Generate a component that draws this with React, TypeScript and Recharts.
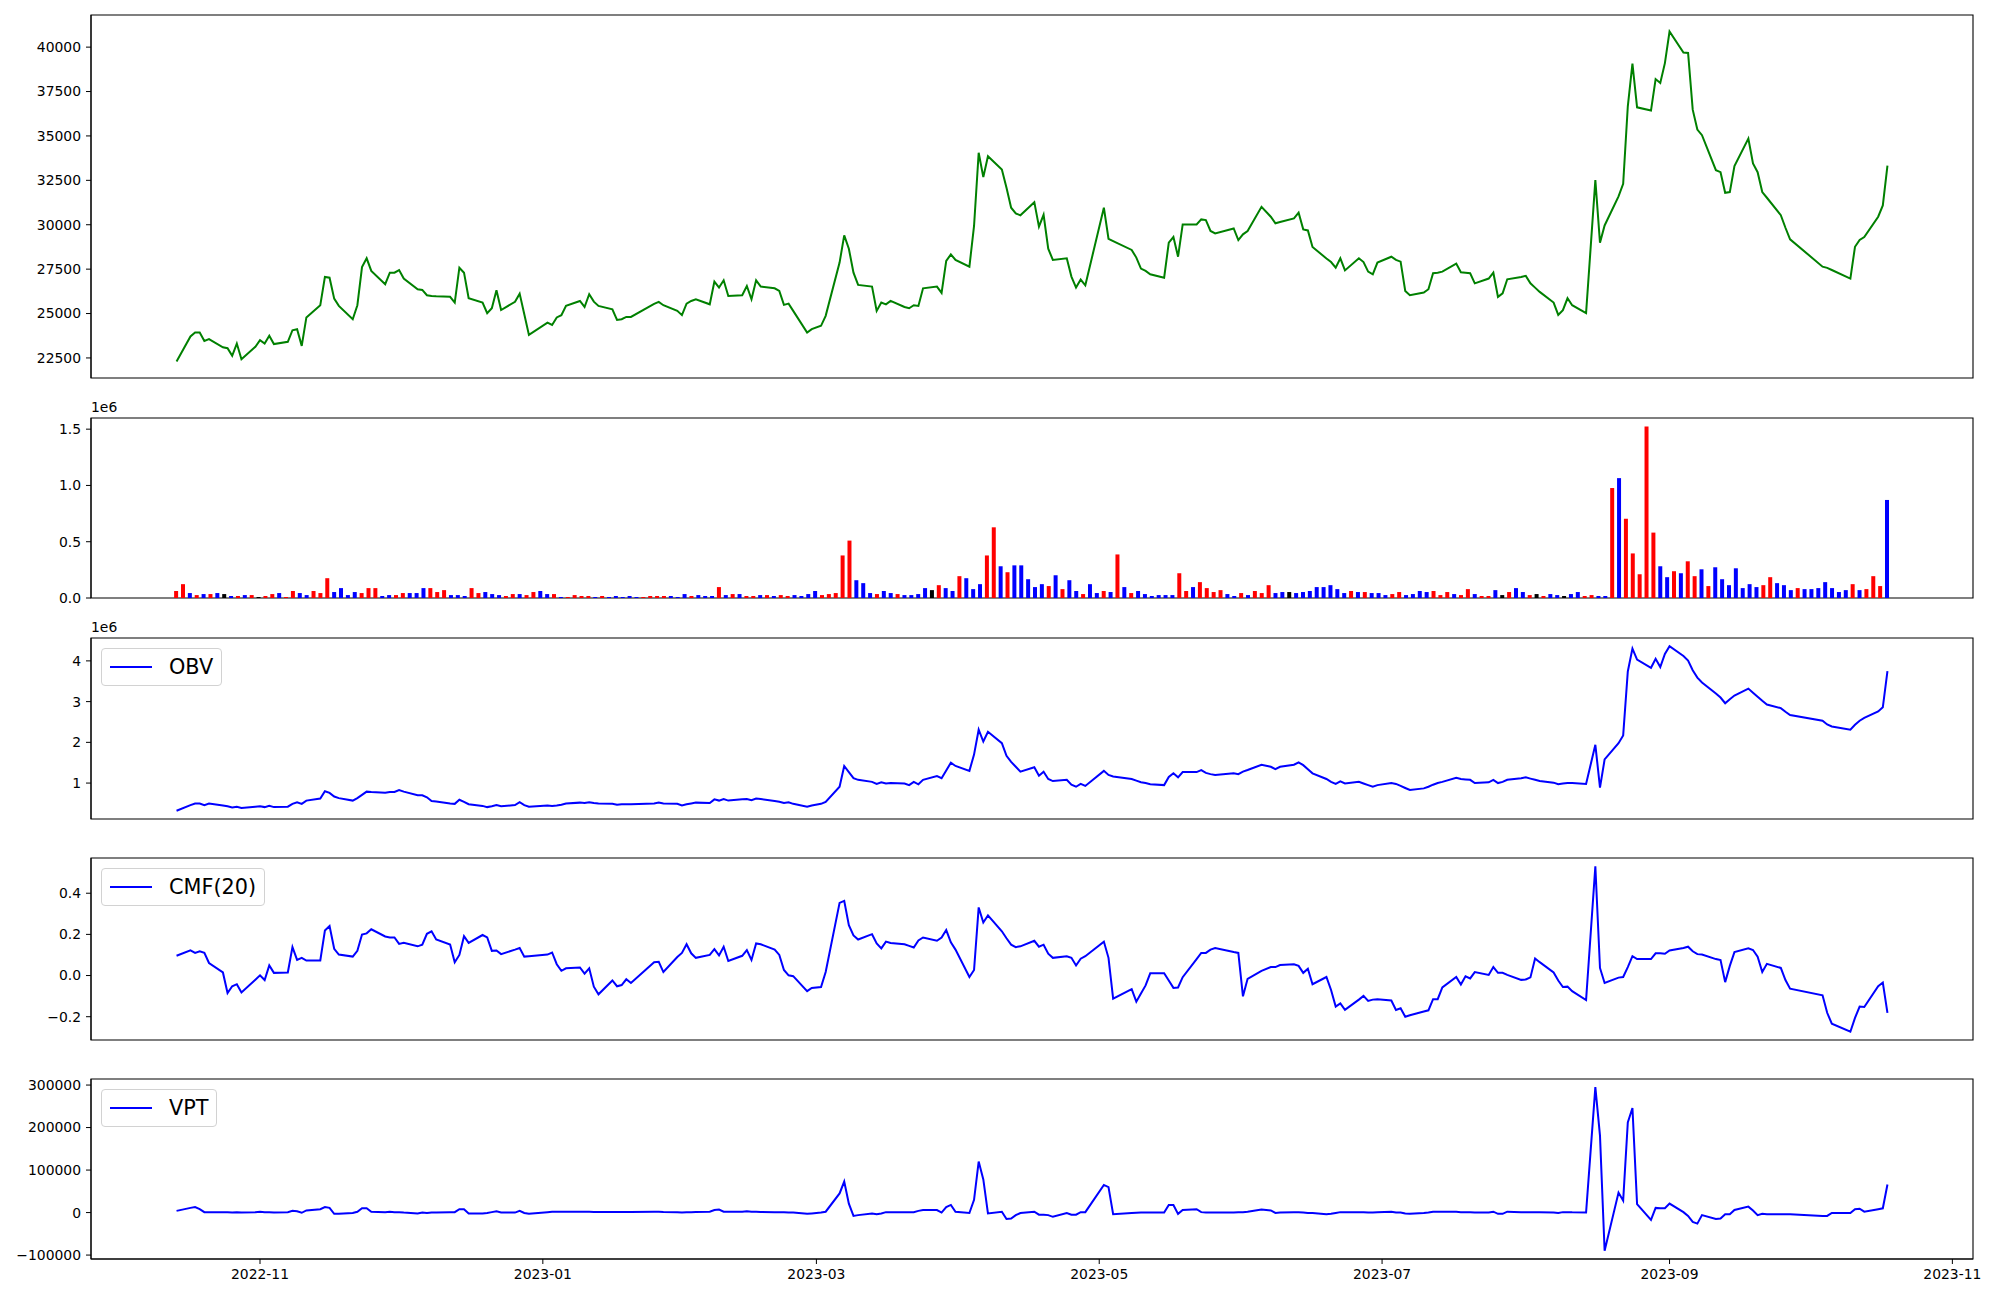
import React from "react";
import { LineChart, Line, BarChart, Bar, Cell, XAxis, YAxis, ReferenceArea } from "recharts";

const FONT = "DejaVu Sans, sans-serif";
const DAY_MS = 86400000;

// weekdays with no session in the window
const holidays = [
  "2022-12-30", "2023-01-23", "2023-01-24", "2023-03-01", "2023-05-01", "2023-05-05",
  "2023-05-29", "2023-06-06", "2023-08-15", "2023-09-28", "2023-09-29", "2023-10-02",
  "2023-10-03", "2023-10-09",
];

// closing price, one per session, month by month
const close = [
  22300, 23710, 23930, 23930, 23460, 23560, 23100, 23050, 22620, 23310, 22430, 23130,
  23500, 23310, 23750, 23280, 23410, 24060, 24120, 23180, 24780, 25470, 27060, 27020, 25840, 25430, 24680, 25470, 27620, 28110, 27400, 26650, 27300, 27300,
  27450, 26970, 26370, 26330, 26030, 25990, 25970, 25940, 25620, 27580, 27300, 25860, 25620, 25020, 25300, 26310, 25200, 25660, 26120, 24960, 23800,
  24490, 24360, 24780, 24910, 25430, 25710, 25370, 26090, 25670, 25430, 25240, 24640, 24680, 24810, 24810, 25540, 25660, 25470, 25150, 24910,
  25560, 25710, 25800, 25520, 26800, 26460, 26870, 25990, 26030, 26550, 25800, 26870, 26520, 26420, 26270, 25490, 25560, 25150, 23930, 24120,
  24310, 24870, 27870, 29400, 28650, 27300, 26610, 26520, 25150, 25620, 25520, 25710, 25370, 25300, 25470, 25430, 26420, 26520, 26160, 27960, 28330, 28020,
  27640, 29930, 34050, 32680, 33860, 33110, 32080, 30960, 30640, 30530, 31270, 29890, 30560, 28650, 28020, 28110, 27080, 26460, 26910, 26590,
  30960, 29210, 29080, 28580, 28150, 27530, 27400, 27210, 27020, 28990, 29310, 28200, 30020, 30020, 30300, 30260, 29650, 29510, 29790, 29140,
  29460, 29650, 31010, 30450, 30080, 30150, 30360, 30680, 29740, 29680, 28750, 28100, 27900, 27580, 28110, 27430, 28110, 27900, 27360, 27210, 27870,
  28200, 28020, 27920, 26270, 26030, 26180, 26370, 27270, 27300, 27360, 27810, 27320, 27300, 27270, 26700, 26970, 27300, 25940, 26140, 26930, 27060,
  27120, 26700, 26460, 26220, 25620, 24920, 25190, 25860, 25470, 25020, 32510, 28990, 29960, 31600, 32300, 36670, 39070, 36610, 36430, 38200, 37980, 39100,
  40880, 39700, 39670, 36480, 35360, 35040, 33070, 32960, 31800, 31840, 33300, 34850, 33450, 32960, 31840, 31520, 30540, 29830, 29180,
  27640, 27570, 27450, 26970, 28760, 29140, 29310, 30450, 31090, 33330,
];

// traded volume, thousands
const volumeK = [
  62, 123, 44, 26, 35, 35, 44, 35, 18, 18, 26, 26,
  9, 18, 35, 44, 9, 62, 44, 26, 62, 44, 176, 53, 88, 26, 53, 44, 88, 88, 18, 26, 26, 44,
  44, 44, 88, 88, 53, 70, 26, 26, 18, 88, 44, 53, 35, 26, 18, 35, 35, 26, 53, 62, 35,
  35, 9, 9, 26, 18, 18, 9, 18, 9, 18, 9, 18, 9, 9, 18, 18, 18, 18, 9, 35,
  18, 26, 18, 18, 97, 26, 35, 35, 18, 18, 26, 26, 18, 26, 18, 26, 18, 35, 62, 26,
  35, 44, 378, 510, 158, 132, 44, 35, 62, 44, 35, 26, 26, 35, 88, 70, 114, 88, 62, 194, 176, 79,
  123, 378, 628, 282, 229, 290, 290, 167, 97, 123, 106, 202, 79, 158, 62, 35, 123, 44, 62, 53,
  387, 97, 44, 62, 35, 18, 26, 26, 26, 220, 62, 97, 141, 88, 53, 70, 35, 18, 44, 26,
  62, 44, 114, 44, 53, 53, 44, 53, 62, 97, 97, 114, 79, 44, 62, 53, 53, 44, 44, 26, 35,
  53, 26, 35, 62, 53, 62, 26, 53, 35, 26, 79, 35, 18, 18, 70, 26, 53, 88, 53, 26, 35,
  18, 35, 26, 18, 35, 53, 18, 26, 18, 18, 977, 1065, 704, 396, 211, 1523, 581, 282, 185, 238, 220, 326,
  194, 255, 106, 273, 167, 114, 264, 88, 123, 97, 114, 185, 132, 114, 70, 88, 79, 79, 88,
  141, 88, 53, 70, 123, 70, 79, 194, 106, 871,
];

// bar colour: r = up, b = down, k = flat
const barTone = (
  "rrbrbrbkbrbr" +
  "krrbrrbbrrrbbbbrrrbbrr" +
  "bbbrrrbbbrrbbbrrbrrbb" +
  "rbrrrrbrbbbbbrrrrbbb" +
  "rbbbrbrbrrbrbrrbbbbr" +
  "rrrrbbbrbbrbbbbkrbbrbb" +
  "brrbrbbbbbrbrbbrbbrb" +
  "rbrbbbbbbrrbrrrrbbrb" +
  "rrrbbkbbbbbbbbrbrbbbr" +
  "rbbbbrrrbrrbrrbkrbbrk" +
  "rbbkbbrrbbrbrrrrrbbrbr" +
  "rbrbbbbbbbrrbbbrbbb" +
  "bbbbrbrrrb"
).split("");

// on-balance volume, millions
const obvM = [
  0.32, 0.46, 0.5, 0.5, 0.46, 0.5, 0.45, 0.43, 0.4, 0.42, 0.39, 0.42,
  0.43, 0.41, 0.44, 0.41, 0.42, 0.49, 0.53, 0.49, 0.57, 0.62, 0.8, 0.76, 0.67, 0.63, 0.57, 0.63, 0.71, 0.79, 0.78, 0.76, 0.78, 0.78,
  0.83, 0.79, 0.7, 0.7, 0.65, 0.56, 0.55, 0.5, 0.49, 0.59, 0.54, 0.48, 0.44, 0.41, 0.43, 0.46, 0.43, 0.46, 0.53, 0.46, 0.42,
  0.45, 0.44, 0.45, 0.47, 0.5, 0.52, 0.51, 0.53, 0.51, 0.5, 0.49, 0.47, 0.48, 0.48, 0.48, 0.5, 0.52, 0.5, 0.49, 0.45,
  0.48, 0.5, 0.52, 0.51, 0.6, 0.57, 0.61, 0.57, 0.6, 0.61, 0.58, 0.62, 0.61, 0.56, 0.54, 0.51, 0.53, 0.49, 0.42, 0.45,
  0.49, 0.54, 0.91, 1.42, 1.27, 1.12, 1.08, 1.03, 0.98, 1.02, 0.99, 1.0, 0.99, 0.95, 1.03, 0.97, 1.08, 1.17, 1.12, 1.31, 1.5, 1.42,
  1.3, 1.7, 2.31, 2.02, 2.26, 1.98, 1.67, 1.52, 1.4, 1.28, 1.39, 1.18, 1.28, 1.1, 1.05, 1.08, 0.96, 0.91, 0.98, 0.93,
  1.3, 1.2, 1.16, 1.1, 1.06, 1.02, 1.0, 0.97, 0.95, 1.15, 1.24, 1.14, 1.27, 1.27, 1.32, 1.25, 1.22, 1.2, 1.24, 1.22,
  1.28, 1.32, 1.45, 1.4, 1.34, 1.4, 1.45, 1.51, 1.44, 1.34, 1.24, 1.1, 1.03, 0.98, 1.04, 0.99, 1.03, 0.99, 0.95, 0.91, 0.95,
  1.0, 0.98, 0.93, 0.88, 0.83, 0.87, 0.91, 0.96, 1.0, 1.03, 1.13, 1.1, 1.09, 1.08, 1.0, 1.02, 1.08, 1.0, 1.03, 1.08, 1.12,
  1.14, 1.11, 1.08, 1.05, 1.01, 0.97, 0.99, 1.0, 1.0, 0.98, 1.94, 0.89, 1.58, 1.98, 2.17, 3.74, 4.3, 4.03, 3.83, 4.05, 3.85, 4.17,
  4.36, 4.12, 4.01, 3.77, 3.59, 3.47, 3.2, 3.1, 2.96, 3.06, 3.15, 3.32, 3.22, 3.12, 3.02, 2.93, 2.84, 2.75, 2.67,
  2.53, 2.44, 2.39, 2.31, 2.43, 2.53, 2.6, 2.76, 2.86, 3.75,
];

// Chaikin money flow, 20 sessions
const cmf20 = [
  0.096, 0.122, 0.11, 0.118, 0.11, 0.061, 0.015, -0.085, -0.052, -0.042, -0.082, -0.02,
  0.001, -0.022, 0.049, 0.013, 0.015, 0.138, 0.076, 0.086, 0.073, 0.073, 0.219, 0.241, 0.13, 0.102, 0.092, 0.12, 0.199, 0.205, 0.225, 0.19, 0.185, 0.185,
  0.154, 0.159, 0.142, 0.15, 0.203, 0.215, 0.175, 0.151, 0.065, 0.1, 0.191, 0.159, 0.197, 0.185, 0.12, 0.122, 0.104, 0.126, 0.134, 0.092, 0.094,
  0.102, 0.112, 0.055, 0.023, 0.035, 0.039, 0.009, 0.035, -0.054, -0.091, -0.024, -0.052, -0.046, -0.018, -0.036, 0.065, 0.067, 0.017, 0.09, 0.11,
  0.152, 0.108, 0.086, 0.1, 0.128, 0.098, 0.14, 0.071, 0.096, 0.124, 0.076, 0.156, 0.152, 0.126, 0.1, 0.027, 0.001, -0.003, -0.076, -0.06,
  -0.056, 0.017, 0.353, 0.363, 0.245, 0.195, 0.175, 0.201, 0.156, 0.132, 0.165, 0.158, 0.152, 0.144, 0.136, 0.171, 0.185, 0.169, 0.185, 0.221, 0.161, 0.126,
  -0.007, 0.027, 0.331, 0.258, 0.292, 0.215, 0.181, 0.15, 0.138, 0.142, 0.169, 0.14, 0.15, 0.106, 0.086, 0.094, 0.086, 0.049, 0.082, 0.094,
  0.165, 0.086, -0.112, -0.066, -0.127, -0.087, -0.048, 0.011, 0.011, -0.024, -0.06, -0.058, -0.008, 0.08, 0.11, 0.11, 0.126, 0.134, 0.114, 0.11,
  -0.101, -0.016, 0.023, 0.041, 0.041, 0.051, 0.055, 0.047, 0.013, 0.033, -0.042, -0.007, -0.07, -0.151, -0.135, -0.167, -0.117, -0.099, -0.123, -0.117, -0.115,
  -0.121, -0.167, -0.159, -0.2, -0.193, -0.175, -0.169, -0.115, -0.115, -0.058, -0.007, -0.044, -0.004, -0.014, 0.017, 0.003, 0.041, 0.013, 0.013, 0.003, -0.021,
  -0.019, -0.009, 0.083, 0.065, 0.015, -0.024, -0.056, -0.054, -0.076, -0.119, 0.531, 0.037, -0.036, -0.01, -0.007, 0.041, 0.094, 0.08, 0.08, 0.108, 0.108, 0.106,
  0.122, 0.134, 0.14, 0.118, 0.104, 0.102, 0.08, 0.075, -0.032, 0.047, 0.114, 0.132, 0.124, 0.092, 0.017, 0.057, 0.037, -0.022, -0.064,
  -0.096, -0.181, -0.234, -0.273, -0.206, -0.151, -0.153, -0.052, -0.034, -0.181,
];

// volume price trend, thousands
const vptK = [
  4, 11, 13, 8, 1, 0.5, 0.5, 1, 0, 0.5, 0, 1,
  2, 0.5, 1, 0, 1, 4, 3, -0.5, 5, 8, 13, 11, -3, -3, -1, 2, 10, 10, 2, 1, 2, 1,
  1, 0, -2, 0, -1, 0, 0, 1, 1, 8, 8, -2, -2, -1, 1, 3, 0, 0, 4, -1, -3,
  1, 2, 2, 2, 2, 2, 2, 2, 1.5, 1.5, 1.5, 1.5, 1.5, 1.5, 1.5, 2, 2, 1.5, 1, 0,
  1, 1, 1.5, 2, 6, 7, 2, 2, 2, 3, 2, 2, 1.5, 1, 1, 0.5, 0, 0, -3, -2,
  0, 2, 45, 73, 21, -8, -6, -2, -4, -2, 1, 1, 1, 1, 1, 4, 6, 6, 0, 13, 18, 2,
  -1, 30, 120, 78, -2, 2, -15, -14, -6, -1, 2, -5, -5, -6, -10, -1, -5, -5, 1, 1,
  65, 60, -4, -1, -0.5, 0, 0, 0, 0, 18, 18, -3, 6, 8, 1, 0, 0, 0, 0, 1,
  1, 2, 7, 5, -1, 0, 1, 1, 0, -1, -1, -4, -3, -1, 1, 1, 1, 1, 0, 0, 0.5,
  2, 0, 0, -2, -3, -1, 0, 2, 2, 2, 2, 1, 1, 1, 0, 0, 2, -3, -3, 2, 1,
  1, 1, 1, 1, 0, -1, 1, 1, 0.5, 0, 295, 181, -90, 47, 28, 212, 246, 20, -17, 11, 10, 10,
  21, 1, -8, -22, -26, -6, -15, -14, -4, -4, 6, 14, 5, -6, -3, -4, -4, -4, -4,
  -8, -8, -1, -1, 8, 9, 2, 8, 10, 66,
];

const priceTicks = [22500, 25000, 27500, 30000, 32500, 35000, 37500, 40000];
const volumeTicks = [0, 0.5, 1.0, 1.5];
const obvTicks = [1, 2, 3, 4];
const cmfTicks = [-0.2, 0, 0.2, 0.4];
const vptTicks = [-100000, 0, 100000, 200000, 300000];
const monthTicks = ["2022-11", "2023-01", "2023-03", "2023-05", "2023-07", "2023-09", "2023-11"];

const toneColor: Record<string, string> = { r: "#ff0000", b: "#0000ff", k: "#000000" };

function sessions(): number[] {
  const out: number[] = [];
  for (let t = Date.UTC(2022, 9, 14); t <= Date.UTC(2023, 9, 18); t += DAY_MS) {
    const d = new Date(t);
    const wd = d.getUTCDay();
    if (wd === 0 || wd === 6) continue;
    if (holidays.includes(d.toISOString().slice(0, 10))) continue;
    out.push(t);
  }
  return out;
}

const dates = sessions();
const rows = dates.map((t, i) => ({
  t,
  i,
  close: close[i],
  vol: volumeK[i] / 1000,
  tone: barTone[i],
  obv: obvM[i],
  cmf: cmf20[i],
  vpt: vptK[i] * 1000,
}));

// matplotlib-style 5% margins
function padded(vals: number[]): [number, number] {
  const lo = Math.min(...vals);
  const hi = Math.max(...vals);
  const m = (hi - lo) * 0.05;
  return [lo - m, hi + m];
}

const timeDomain = padded([dates[0], dates[dates.length - 1]]);
const indexDomain = padded([0, dates.length - 1]);
const monthTickValues = monthTicks.map((s) => Date.UTC(+s.slice(0, 4), +s.slice(5) - 1, 1));

const W = 2000;
const PLOT_L = 91;
const PLOT_R = 1973;
const PAD = 10;

const tickStyle = { fontSize: 13.9, fill: "#000", fontFamily: FONT };
const minus = (s: string) => s.replace("-", "\u2212");

// axes box drawn through the chart's own scales
function box(x: [number, number], y: [number, number]) {
  return (
    <ReferenceArea
      x1={x[0]}
      x2={x[1]}
      y1={y[0]}
      y2={y[1]}
      stroke="#000"
      strokeWidth={1.1}
      fill="none"
      fillOpacity={0}
      ifOverflow="visible"
    />
  );
}

type LineProps = {
  top: number;
  bottom: number;
  dataKey: string;
  color: string;
  ticks: number[];
  fmt: (v: number) => string;
  showDates?: boolean;
};

function LinePanel({ top, bottom, dataKey, color, ticks, fmt, showDates }: LineProps) {
  const domain = padded(rows.map((r: any) => r[dataKey]));
  const axisH = showDates ? 30 : 0;
  const mb = showDates ? 6 : PAD;
  return (
    <div style={{ position: "absolute", left: 0, top: top - PAD }}>
      <LineChart
        width={W}
        height={bottom - top + PAD + axisH + mb}
        data={rows}
        margin={{ top: PAD, right: W - PLOT_R, bottom: mb, left: 0 }}
      >
        <XAxis
          dataKey="t"
          type="number"
          scale="linear"
          domain={timeDomain}
          allowDataOverflow
          ticks={showDates ? monthTickValues : []}
          tick={showDates ? tickStyle : false}
          tickLine={showDates ? { stroke: "#000" } : false}
          tickSize={5}
          tickMargin={5}
          height={axisH}
          stroke="#000"
          tickFormatter={(v: number) => {
            const d = new Date(v);
            return `${d.getUTCFullYear()}-${String(d.getUTCMonth() + 1).padStart(2, "0")}`;
          }}
        />
        <YAxis
          type="number"
          domain={domain}
          allowDataOverflow
          ticks={ticks}
          tick={tickStyle}
          tickSize={5}
          tickMargin={5}
          width={PLOT_L}
          stroke="#000"
          tickFormatter={fmt}
          interval={0}
        />
        {box(timeDomain, domain)}
        <Line
          type="linear"
          dataKey={dataKey}
          stroke={color}
          strokeWidth={2}
          dot={false}
          activeDot={false}
          isAnimationActive={false}
        />
      </LineChart>
    </div>
  );
}

function VolumePanel({ top, bottom }: { top: number; bottom: number }) {
  const yDomain: [number, number] = [0, Math.max(...rows.map((r) => r.vol)) * 1.05];
  return (
    <div style={{ position: "absolute", left: 0, top: top - PAD }}>
      <BarChart
        width={W}
        height={bottom - top + 2 * PAD}
        data={rows}
        margin={{ top: PAD, right: W - PLOT_R, bottom: PAD, left: 0 }}
        barCategoryGap={0}
      >
        <XAxis
          dataKey="i"
          type="number"
          domain={indexDomain}
          allowDataOverflow
          ticks={[]}
          tick={false}
          tickLine={false}
          height={0}
          stroke="#000"
        />
        <YAxis
          type="number"
          domain={yDomain}
          allowDataOverflow
          ticks={volumeTicks}
          tick={tickStyle}
          tickSize={5}
          tickMargin={5}
          width={PLOT_L}
          stroke="#000"
          tickFormatter={(v: number) => v.toFixed(1)}
          interval={0}
        />
        {box(indexDomain, yDomain)}
        <Bar dataKey="vol" barSize={4} isAnimationActive={false}>
          {rows.map((r, k) => (
            <Cell key={k} fill={toneColor[r.tone]} />
          ))}
        </Bar>
      </BarChart>
    </div>
  );
}

function LegendBox({ top, label }: { top: number; label: string }) {
  return (
    <div
      style={{
        position: "absolute",
        left: PLOT_L + 10,
        top,
        display: "flex",
        alignItems: "center",
        padding: "7px 8px",
        border: "1px solid #d2d2d2",
        borderRadius: 4,
        background: "rgba(255,255,255,0.8)",
        fontFamily: FONT,
        fontSize: 20.8,
        lineHeight: "22px",
        color: "#000",
      }}
    >
      <span style={{ display: "inline-block", width: 42, height: 2, background: "#0000ff", marginRight: 17 }} />
      <span>{label}</span>
    </div>
  );
}

function OffsetLabel({ top }: { top: number }) {
  return (
    <div style={{ position: "absolute", left: PLOT_L, top, fontFamily: FONT, fontSize: 13.9, lineHeight: "16px", color: "#000" }}>
      1e6
    </div>
  );
}

export default function App() {
  return (
    <div style={{ position: "absolute", left: 0, top: 0, width: W, height: 1300, background: "#fff", overflow: "hidden" }}>
      <LinePanel top={15} bottom={378} dataKey="close" color="#008000" ticks={priceTicks} fmt={(v) => String(v)} />
      <VolumePanel top={418} bottom={598} />
      <OffsetLabel top={399} />
      <LinePanel top={638} bottom={819} dataKey="obv" color="#0000ff" ticks={obvTicks} fmt={(v) => String(v)} />
      <OffsetLabel top={619} />
      <LegendBox top={648} label="OBV" />
      <LinePanel top={858} bottom={1040} dataKey="cmf" color="#0000ff" ticks={cmfTicks} fmt={(v) => minus(v.toFixed(1))} />
      <LegendBox top={868} label="CMF(20)" />
      <LinePanel top={1079} bottom={1259} dataKey="vpt" color="#0000ff" ticks={vptTicks} fmt={(v) => minus(String(v))} showDates />
      <LegendBox top={1089} label="VPT" />
    </div>
  );
}
